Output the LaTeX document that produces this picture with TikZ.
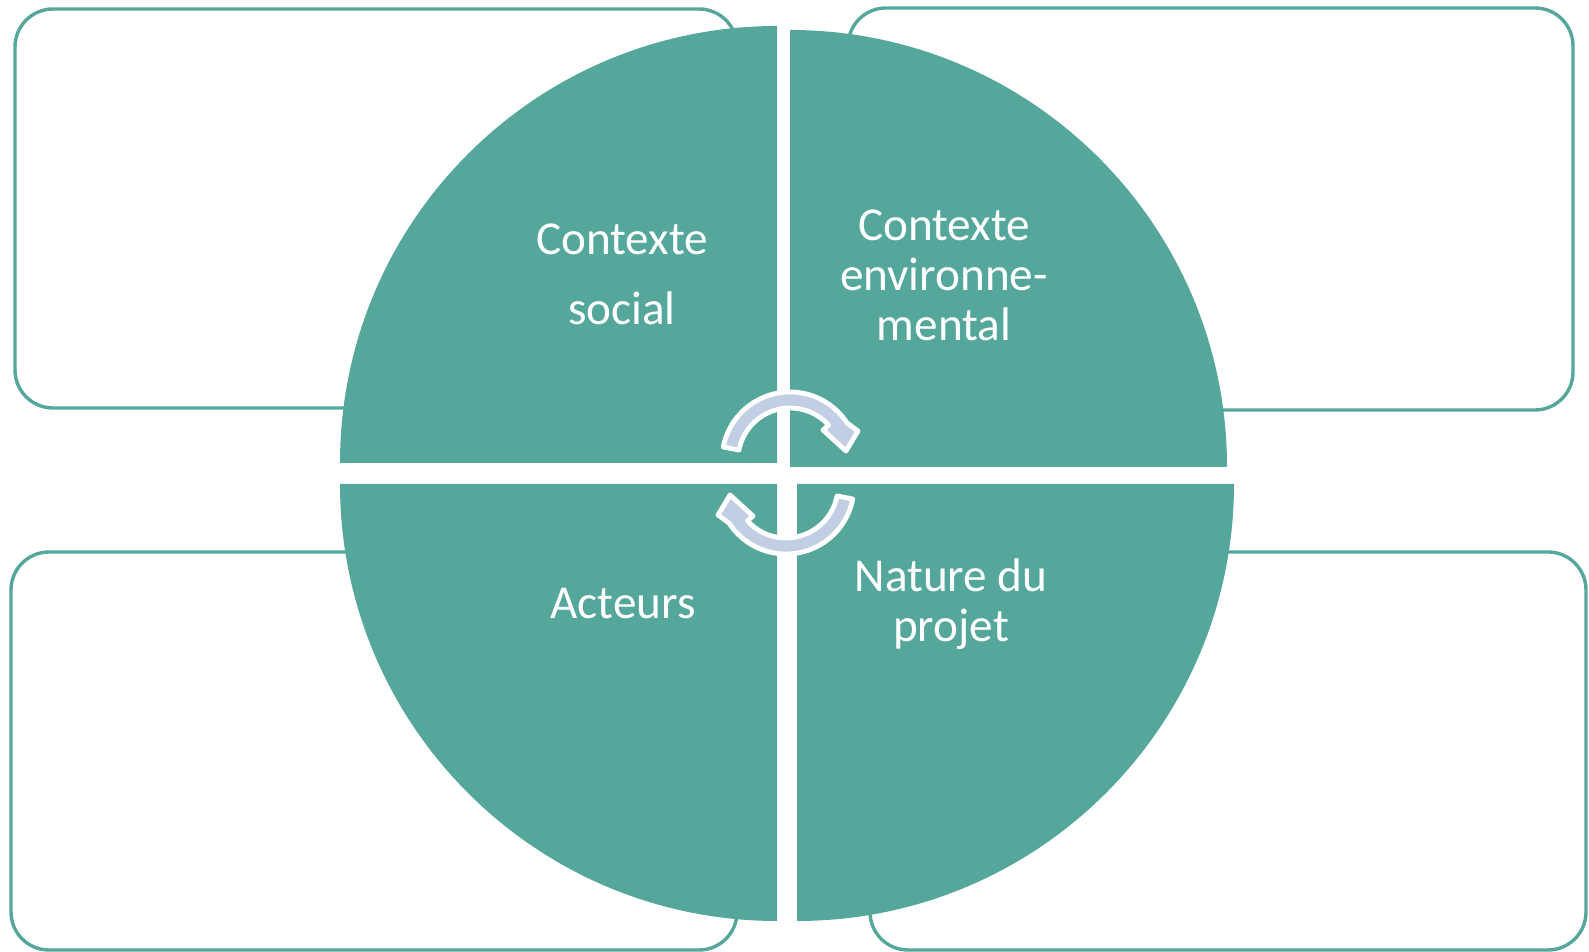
\documentclass[tikz,border=0pt]{standalone}
\usepackage{fontspec}
\setmainfont{Carlito}
\usetikzlibrary{calc}
\definecolor{tealfill}{RGB}{85,167,156}
\definecolor{arrowblue}{RGB}{193,206,227}
\tikzset{
  panel/.style={draw=tealfill,line width=1.7pt,rounded corners=19pt,fill=white},
  quarter/.style={fill=tealfill},
  cyclearrow/.style={fill=arrowblue,draw=white,line width=2.4pt,line join=round},
  lbl/.style={text=white,align=center,anchor=base,inner sep=0pt,
    font=\fontsize{23.6}{25.2}\selectfont}
}

\begin{document}
\begin{tikzpicture}[x=0.5pt,y=0.5pt]
\useasboundingbox (0,0) rectangle (1589,952);
% empty frames behind the circle
\draw[panel] (15,544) rectangle (737,943);
\draw[panel] (848,542) rectangle (1573,944);
\draw[panel] (11,2) rectangle (737,400);
\draw[panel] (870,2) rectangle (1586,400);

% four quarters
\coordinate (qTL) at (777,489);
\coordinate (qTR) at (790,485);
\coordinate (qBL) at (777,468);
\coordinate (qBR) at (797,468);
\foreach \c/\a in {qTL/90,qTR/0,qBL/180,qBR/270}
  \fill[quarter] (\c) -- ++(\a:437) arc[start angle=\a,delta angle=90,radius=437] -- cycle;

% turning arrows in the middle
\foreach \cx/\cy/\rot in {790/492/0,786/466/180}
  \filldraw[cyclearrow,shift={(\cx,\cy)},rotate=\rot]
    (169:68) arc[start angle=169,end angle=33,radius=68]
    -- (68,29) -- (56,9) -- (33,30) -- (42:52)
    arc[start angle=42,end angle=169,radius=52] -- cycle;

% base anchor sits on the last line
\node[lbl,font=\fontsize{23.6}{35}\selectfont] (social) at (622,627) {Contexte\\social};
\node[lbl] (envir) at (944,611) {Contexte\\environne-\\mental};
\node[lbl] (acteurs) at (623,333) {Acteurs};
\node[lbl] (projet) at (951,310) {Nature du\\projet};
\end{tikzpicture}
\end{document}
